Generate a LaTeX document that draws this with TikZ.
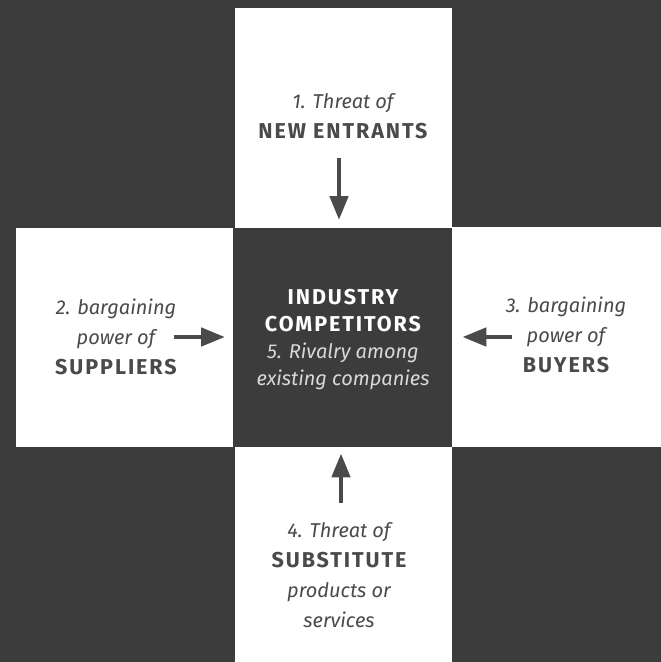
\documentclass[tikz,border=0pt]{standalone}
\usepackage{fontspec}
\setmainfont{Fira Sans}
\newfontfamily\capsfont[LetterSpace=9]{Fira Sans}
\usetikzlibrary{arrows.meta}
\definecolor{board}{HTML}{3C3C3C}
\definecolor{ink}{HTML}{4A4A4A}
\newcommand{\caps}[1]{{\capsfont\bfseries\upshape\fontsize{21.5}{30}\selectfont #1}}

\begin{document}
\begin{tikzpicture}[x=1pt,y=-1pt,
    panel/.style={fill=white, inner sep=0pt, anchor=north west},
    label/.style={align=center, text=ink, font=\fontsize{20}{30}\selectfont\itshape},
    force/.style={draw=ink, line width=4.7pt, -{Triangle[length=24pt,width=18pt]}}]
    \useasboundingbox (0,0) rectangle (661,662);
    \fill[board] (0,0) rectangle (661,662);
    % the four outer forces and the centre
    \node[panel, minimum width=217pt, minimum height=220pt] (entrants) at (235,8) {};
    \node[panel, minimum width=217pt, minimum height=219pt] (suppliers) at (16,228) {};
    \node[panel, minimum width=209pt, minimum height=220pt] (buyers) at (452,227) {};
    \node[panel, minimum width=217pt, minimum height=215pt] (substitutes) at (235,447) {};
    \node[panel, fill=board, minimum width=219pt, minimum height=219pt] (rivalry) at (233,228) {};
    % texts
    \node[label] (entrantstext) at (343,116) {1. Threat of\\ \caps{NEW ENTRANTS}};
    \node[label] (supplierstext) at (116,337) {2. bargaining\\ power of\\ \caps{SUPPLIERS}};
    \node[label] (buyerstext) at (566,335) {3. bargaining\\ power of\\ \caps{BUYERS}};
    \node[label] (substitutestext) at (339,575) {4. Threat of\\ \caps{SUBSTITUTE}\\ products or\\ services};
    \node[label, text=white, font=\fontsize{20}{27}\selectfont\itshape] (rivalrytext) at (343,340)
        {\caps{INDUSTRY}\\ \caps{COMPETITORS}\\ \color{black!15}5. Rivalry among\\ \color{black!15}existing companies};
    % arrows
    \coordinate (entrantsarrow) at (339,158);
    \coordinate (suppliersarrow) at (174,337);
    \coordinate (buyersarrow) at (512,337);
    \coordinate (substitutesarrow) at (341,503);
    \draw[force, shorten >=8pt] (entrantsarrow) -- (entrantsarrow |- rivalry.north);
    \draw[force, shorten >=8pt] (suppliersarrow) -- (suppliersarrow -| rivalry.west);
    \draw[force, shorten >=10pt] (buyersarrow) -- (buyersarrow -| rivalry.east);
    \draw[force, shorten >=6pt] (substitutesarrow) -- (substitutesarrow |- rivalry.south);
\end{tikzpicture}
\end{document}
